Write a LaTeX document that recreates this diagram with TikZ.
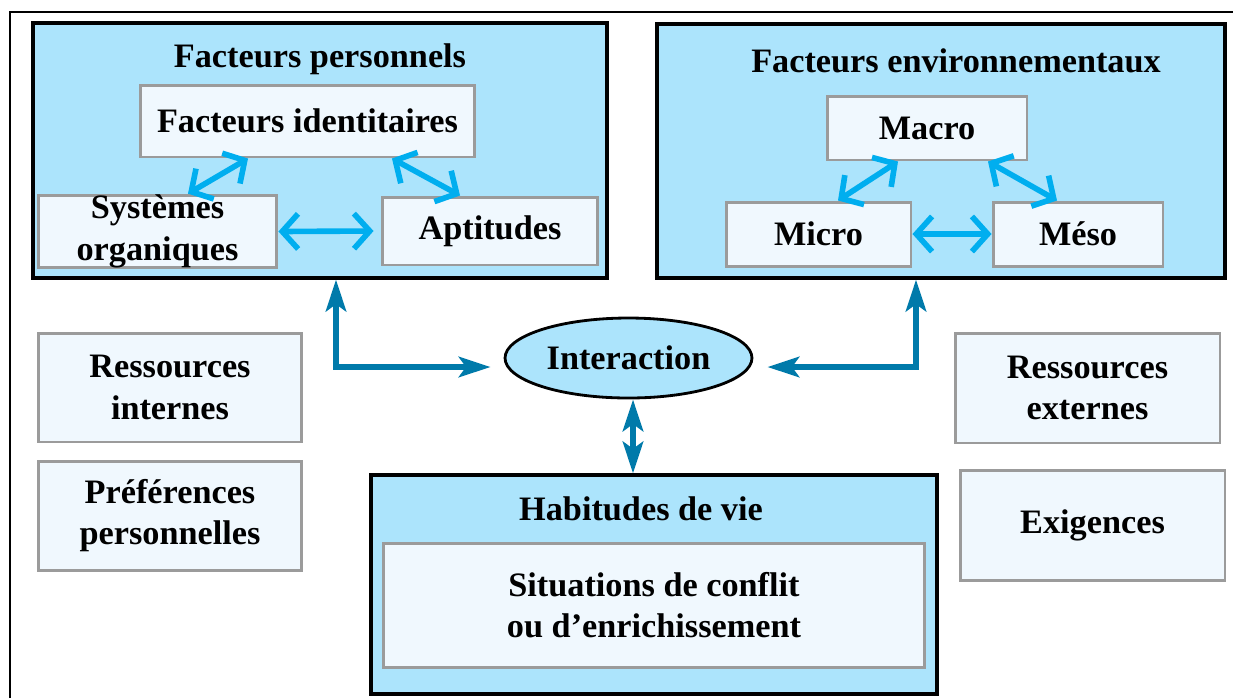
\documentclass[tikz,border=0pt]{standalone}
\usepackage{fontspec}
\setmainfont{Liberation Serif}
\usetikzlibrary{arrows.meta,shapes.geometric}

\tikzset{
  bigbox/.style={draw=black,line width=1.8pt,fill=boxblue,inner sep=0},
  smallbox/.style={draw=boxgray,line width=1.7pt,fill=boxwhite,inner sep=0,align=center,font=\bfseries\fontsize{19.5}{23.5}\selectfont},
  boxtitle/.style={inner sep=0,font=\bfseries\fontsize{19.5}{22.8}\selectfont},
  lightarr/.style={draw=arrlight,line width=3.2pt,<->,>={Straight Barb[length=9pt,width=20pt]}},
  darkarr/.style={draw=arrdark,line width=3.8pt,<->,>={Stealth[length=18pt,width=11.5pt,inset=4pt]}},
}

\begin{document}
\begin{tikzpicture}[x=0.02cm,y=-0.02cm]
    \definecolor{boxblue}{RGB}{172,228,252}
    \definecolor{boxwhite}{RGB}{240,248,254}
    \definecolor{boxgray}{RGB}{155,155,155}
    \definecolor{arrlight}{RGB}{0,174,239}
    \definecolor{arrdark}{RGB}{0,122,170}
    \useasboundingbox (0,0) rectangle (1233,698);
    % frame
    \draw[line width=1.6pt] (10,698) -- (10,12) -- (1233,12);
    % personal factors
    \node[bigbox,minimum width=11.48cm,minimum height=5.1cm] (pers) at (320,150.5) {};
    \node[boxtitle] (perstitle) at (320,59) {Facteurs personnels};
    \node[smallbox,minimum width=6.7cm,minimum height=1.44cm] (ident) at (307.5,121) {Facteurs identitaires};
    \node[smallbox,minimum width=4.78cm,minimum height=1.38cm] (sys) at (157.5,231.5) {Systèmes\\organiques};
    \node[smallbox,minimum width=4.32cm,minimum height=1.36cm] (apt) at (490,231) {Aptitudes};
    \draw[lightarr] ([xshift=-1.19cm]ident.south) -- ([xshift=0.61cm]sys.north);
    \draw[lightarr] ([xshift=1.69cm]ident.south) -- ([xshift=-0.6cm]apt.north);
    \draw[lightarr] (sys.east) -- ([xshift=-0.14cm]apt.west);
    % environmental factors
    \node[bigbox,minimum width=11.36cm,minimum height=5.08cm] (env) at (941,151) {};
    \node[boxtitle] (envtitle) at (956,61) {Facteurs environnementaux};
    \node[smallbox,minimum width=4cm,minimum height=1.28cm] (macro) at (927,128) {Macro};
    \node[smallbox,minimum width=3.7cm,minimum height=1.28cm] (micro) at (818.5,234) {Micro};
    \node[smallbox,minimum width=3.4cm,minimum height=1.28cm] (meso) at (1078,234) {Méso};
    \draw[lightarr] ([xshift=-0.58cm]macro.south) -- ([xshift=0.39cm]micro.north);
    \draw[lightarr] ([xshift=1.22cm]macro.south) -- ([xshift=-0.42cm]meso.north);
    \draw[lightarr] (micro.east) -- (meso.west);
    % interaction
    \node[ellipse,draw=black,line width=1.6pt,fill=boxblue,minimum width=4.94cm,minimum height=1.6cm,inner sep=0,font=\bfseries\fontsize{19.5}{22.8}\selectfont] (inter) at (628.5,358) {Interaction};
    \draw[darkarr] ([xshift=0.32cm]pers.south) |- ([xshift=-0.26cm,yshift=-0.18cm]inter.west);
    \draw[darkarr] ([xshift=-0.5cm]env.south) |- ([xshift=0.28cm,yshift=-0.18cm]inter.east);
    % life habits
    \node[bigbox,minimum width=11.32cm,minimum height=4.38cm] (hab) at (654,584.5) {};
    \node[boxtitle] (habtitle) at (641,509) {Habitudes de vie};
    \node[smallbox,minimum width=10.84cm,minimum height=2.48cm] (sit) at (654,605) {Situations de conflit\\ou d’enrichissement};
    \draw[darkarr] ([xshift=0.09cm]inter.south) -- ([xshift=0.09cm]inter.south |- hab.north);
    % side boxes
    \node[smallbox,minimum width=5.28cm,minimum height=2.18cm] (resint) at (170,387.5) {Ressources\\internes};
    \node[smallbox,minimum width=5.28cm,minimum height=2.18cm] (pref) at (170,515.5) {Préférences\\personnelles};
    \node[smallbox,minimum width=5.3cm,minimum height=2.2cm] (resext) at (1087.5,388) {Ressources\\externes};
    \node[smallbox,minimum width=5.3cm,minimum height=2.2cm] (exig) at (1092.5,525) {Exigences};
\end{tikzpicture}
\end{document}
